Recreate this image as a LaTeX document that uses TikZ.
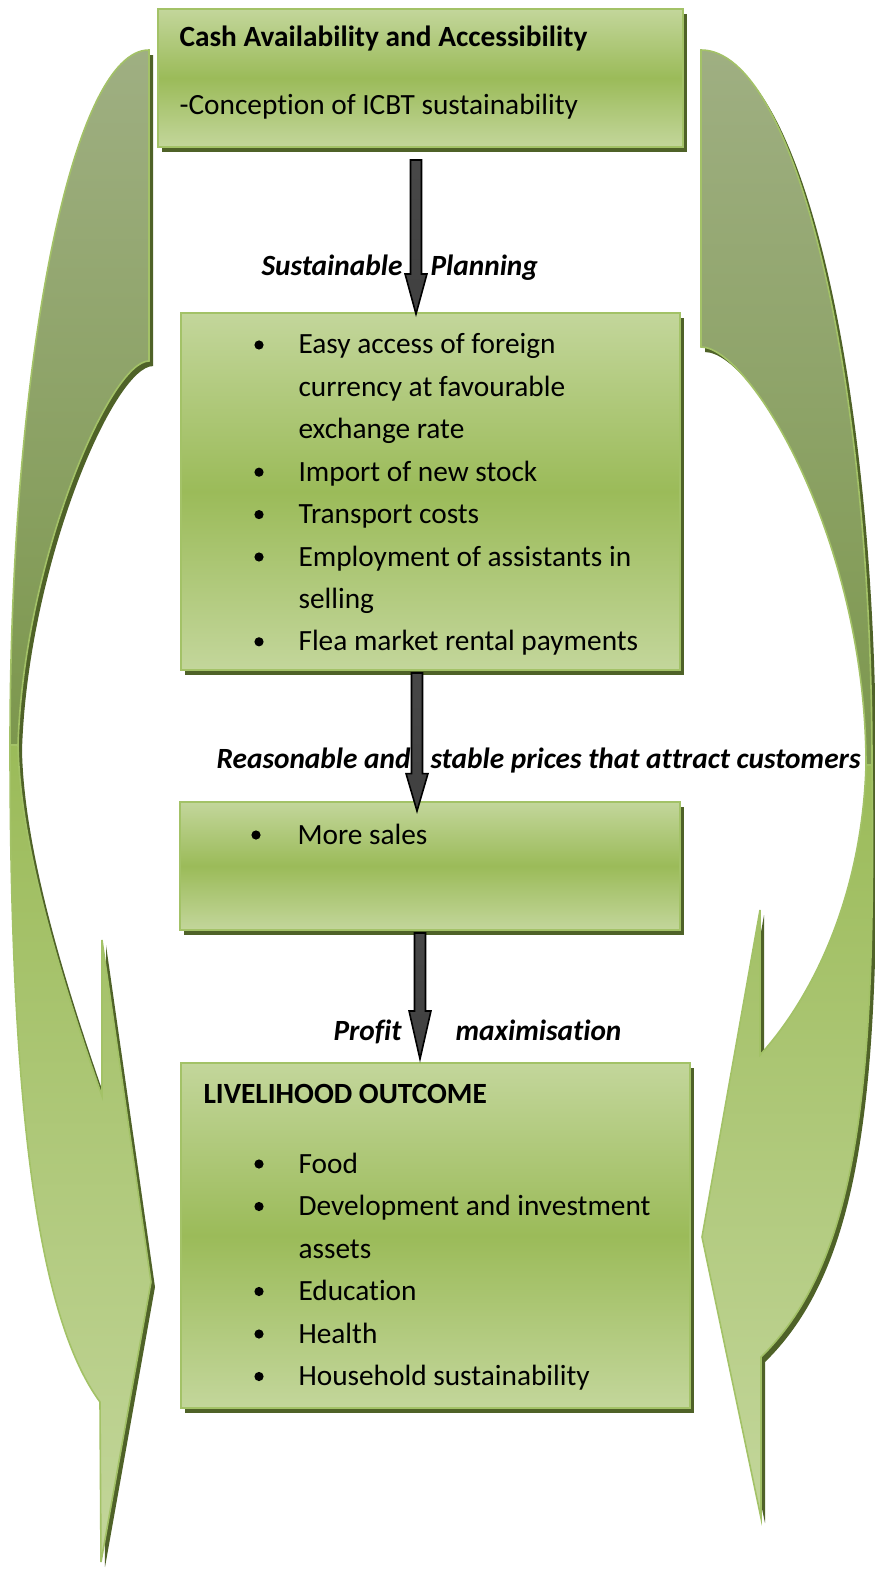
\documentclass[tikz,border=0pt]{standalone}
\usepackage{fontspec}
\setmainfont{Carlito}[Ligatures=NoCommon]
\usetikzlibrary{calc,shadows,fit}

\definecolor{boxlight}{HTML}{C3D69B}
\definecolor{boxmid}{HTML}{9BBB59}
\definecolor{edgegreen}{HTML}{A3C267}
\definecolor{shadegreen}{HTML}{4F6228}
\definecolor{backtop}{HTML}{9FAF82}
\definecolor{backbot}{HTML}{7C974D}

\tikzset{
  greenshadow/.style={drop shadow={shadow xshift=1.5pt,shadow yshift=-1.9pt,fill=shadegreen,opacity=1}},
  panel/.style={rectangle,draw=edgegreen,line width=0.75pt,inner sep=0pt,
    top color=boxlight,bottom color=boxlight,middle color=boxmid,greenshadow},
  txt/.style={inner sep=0pt,anchor=base west,font=\fontsize{11pt}{13pt}\selectfont},
  lbl/.style={txt,font=\fontsize{11pt}{13pt}\selectfont\bfseries\itshape},
  backpart/.style={draw=edgegreen,line width=0.6pt,top color=backtop,bottom color=backbot,greenshadow},
  frontpart/.style={draw=edgegreen,line width=0.6pt,top color=boxmid,bottom color=boxlight,greenshadow},
  darkarrow/.style={draw=black,line width=0.6pt,top color=black!72,middle color=black,bottom color=black!75},
  arrowshade/.style={fill=gray!55,xshift=1.5pt,yshift=-1.3pt}
}

% vertical block arrow from coordinate #1 down to coordinate #2, head length #3
\newcommand\blockarrow[3]{%
  \fill[arrowshade] let \p1=(#1), \p2=(#2) in
    (\x1-2.06pt,\y1) -- (\x1+2.06pt,\y1) -- (\x1+2.06pt,\y2+#3) -- (\x1+4.1pt,\y2+#3)
    -- (\x1,\y2) -- (\x1-4.1pt,\y2+#3) -- (\x1-2.06pt,\y2+#3) -- cycle;
  \path[darkarrow] let \p1=(#1), \p2=(#2) in
    (\x1-2.06pt,\y1) -- (\x1+2.06pt,\y1) -- (\x1+2.06pt,\y2+#3) -- (\x1+4.1pt,\y2+#3)
    -- (\x1,\y2) -- (\x1-4.1pt,\y2+#3) -- (\x1-2.06pt,\y2+#3) -- cycle;
}

\begin{document}
\begin{tikzpicture}[x=0.375pt,y=-0.375pt]
\useasboundingbox (0,0) rectangle (874,1571);

% ---- boxes ----
\node[panel,fit={(158,9) (683,147)}] (b1) {};
\node[panel,fit={(181,313) (680,670)}] (b2) {};
\node[panel,fit={(180,802) (680,930)}] (b3) {};
\node[panel,fit={(181,1063) (690,1408)}] (b4) {};

% ---- box 1 ----
\node[txt] (c1) at (179,47) {\bfseries Cash Availability and Accessibility};
\node[txt] (c2) at (179,115) {-Conception of ICBT sustainability};

% ---- box 2 ----
\foreach \yy/\tx [count=\i] in {354/Easy access of foreign,
    396.4/currency at favourable, 438.8/exchange rate, 481.2/Import of new stock,
    523.6/Transport costs, 566/Employment of assistants in, 608.4/selling,
    650.8/Flea market rental payments}
  \node[txt] (p\i) at (298,\yy) {\tx};
\foreach \yy in {354,481.2,523.6,566,650.8}
  \fill (259,{\yy-9}) circle[radius=4.6];

% ---- box 3 ----
\node[txt] (s1) at (297,844) {More sales};
\fill (256,835) circle[radius=4.6];

% ---- box 4 ----
\node[txt] (o0) at (203,1103) {\bfseries LIVELIHOOD OUTCOME};
\foreach \yy/\tx [count=\i] in {1173/Food, 1215.5/Development and investment,
    1258/assets, 1300.5/Education, 1343/Health, 1385.5/Household sustainability}
  \node[txt] (o\i) at (298,\yy) {\tx};
\foreach \yy in {1173,1215.5,1300.5,1343,1385.5}
  \fill (259,{\yy-9}) circle[radius=4.6];

% ---- arrow labels ----
\node[lbl] (m1a) at (261,276) {Sustainable};
\node[lbl] (m1b) at (430,276) {Planning};
\node[lbl] (m2a) at (216,768) {Reasonable and};
\node[lbl] (m2b) at (430,768) {stable prices that attract customers};
\node[lbl] (m3a) at (333,1040) {Profit};
\node[lbl] (m3b) at (455,1040) {maximisation};

% ---- block arrows between the boxes ----
\coordinate (a1s) at ($(b1.south)+(-4.5,12)$);
\coordinate (a1e) at ($(b2.north)+(-14.5,2)$);
\coordinate (a2s) at ($(b2.south)+(-13.5,2)$);
\coordinate (a2e) at ($(b3.north)+(-13,10)$);
\coordinate (a3s) at ($(b3.south)+(-10,2)$);
\coordinate (a3e) at ($(b4.north)+(-15.5,-3)$);
\blockarrow{a1s}{a1e}{15pt}
\blockarrow{a2s}{a2e}{14pt}
\blockarrow{a3s}{a3e}{18pt}

% ---- left curved arrow ----
\path[backpart] (149,50) .. controls (72.2,50) and (10,361.1) .. (10,745)
  -- (18,745) .. controls (24,560) and (110,361) .. (149,361)
  -- cycle;
\path[frontpart] (10,745) .. controls (10,1120) and (40,1320) .. (100,1402)
  -- (101,1562) -- (151,1282) -- (102,940) -- (102,1096)
  .. controls (65,990) and (20,850) .. (18,745)
  -- cycle;

% ---- right curved arrow ----
\path[backpart] (701,50) .. controls (795.4,50) and (872,372.3) .. (872,765)
  -- (866,765) .. controls (866,540) and (750,347) .. (701,347)
  -- cycle;
\path[frontpart] (872,765) .. controls (876,1080) and (860,1260) .. (761,1357)
  -- (761,1518) -- (702,1237) -- (760,910) -- (760,1055)
  .. controls (810,1000) and (862,900) .. (866,765)
  -- cycle;
\end{tikzpicture}
\end{document}
